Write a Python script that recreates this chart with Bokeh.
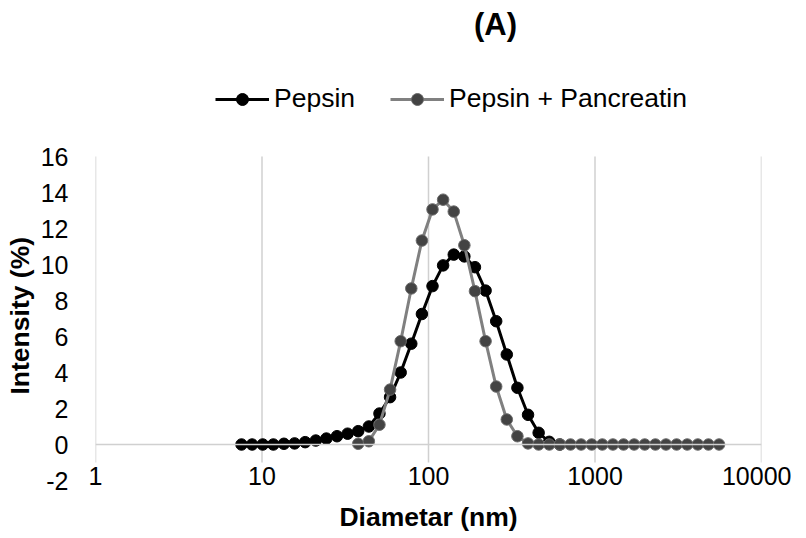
from bokeh.plotting import figure
from bokeh.models import (Legend, LegendItem, Label, Span, FixedTicker, Title,
                          ColumnDataSource, NumeralTickFormatter)
from bokeh.embed import file_html
from bokeh.resources import INLINE

# ---- data ----
DIAM_PEPSIN = [7.531, 8.721, 10.1, 11.7, 13.54, 15.69, 18.17, 21.04, 24.36, 28.21,
               32.67, 37.84, 43.82, 50.75, 58.77, 68.06, 78.82, 91.28, 105.7, 122.4,
               141.8, 164.2, 190.1, 220.2, 255.0, 295.3, 342.0, 396.1, 458.7, 531.2,
               615.1]
INT_PEPSIN = [0, 0, 0, 0, 0.04, 0.06, 0.13, 0.22, 0.33, 0.46,
              0.6, 0.74, 1.0, 1.72, 2.63, 4.0, 5.6, 7.25, 8.8, 9.95,
              10.55, 10.45, 9.85, 8.55, 6.85, 5.0, 3.15, 1.65, 0.65, 0.15,
              0]

DIAM_PANC = [37.84, 43.82, 50.75, 58.77, 68.06, 78.82, 91.28, 105.7, 122.4, 141.8,
             164.2, 190.1, 220.2, 255.0, 295.3, 342.0, 396.1, 458.7, 531.2, 615.1,
             712.4, 825.0, 955.4, 1106, 1281, 1484, 1718, 1990, 2305, 2669,
             3091, 3580, 4145, 4801, 5560]
INT_PANC = [0.04, 0.18, 1.1, 3.05, 5.74, 8.67, 11.33, 13.06, 13.6, 12.94,
            11.07, 8.52, 5.74, 3.22, 1.39, 0.46, 0.06, 0, 0, 0,
            0, 0, 0, 0, 0, 0, 0, 0, 0, 0,
            0, 0, 0, 0, 0]

SERIES_NAMES = ["Pepsin", "Pepsin + Pancreatin"]
XTICKS = [1, 10, 100, 1000, 10000]
XTICK_LABELS = ["1", "10", "100", "1000", "10000"]
YTICKS = [-2, 0, 2, 4, 6, 8, 10, 12, 14, 16]
YTICK_LABELS = ["-2", "0", "2", "4", "6", "8", "10", "12", "14", "16"]
TITLE = "(A)"
XLABEL = "Diametar (nm)"
YLABEL = "Intensity (%)"

# ---- layout / styling constants ----
FONT = "Liberation Sans"
GRID_COLOR = "#d0d0d0"
GRID_BOTTOM = -1.0
PX_PER_UNIT = 18.0          # vertical scale of the value axis
FRAME_H = 480               # frame runs from the top of the canvas down to y = -2
FRAME_W = 666
Y_TOP = YTICKS[0] + FRAME_H / PX_PER_UNIT   # blank room above 16 holds legend + title

p = figure(frame_width=FRAME_W, frame_height=FRAME_H, x_axis_type="log",
           x_range=(XTICKS[0], XTICKS[-1]), y_range=(YTICKS[0], Y_TOP),
           output_backend="svg", toolbar_location=None,
           min_border_left=94, min_border_right=30,
           min_border_top=0, min_border_bottom=40)
p.outline_line_color = None
p.xgrid.visible = False
p.ygrid.visible = False
p.background_fill_color = "white"

# vertical gridlines (incl. value-axis line at x=1)
p.segment(x0=XTICKS, x1=XTICKS, y0=[GRID_BOTTOM] * len(XTICKS),
          y1=[YTICKS[-1]] * len(XTICKS), line_color=GRID_COLOR, line_width=1.5)
# horizontal axis line at y = 0
p.add_layout(Span(location=0, dimension="width", line_color=GRID_COLOR, line_width=1.5))

src1 = ColumnDataSource(dict(x=DIAM_PEPSIN, y=INT_PEPSIN))
src2 = ColumnDataSource(dict(x=DIAM_PANC, y=INT_PANC))

l1 = p.line("x", "y", source=src1, line_color="black", line_width=3)
s1 = p.scatter("x", "y", source=src1, size=11.5, fill_color="black", line_color="black")
l2 = p.line("x", "y", source=src2, line_color="#808080", line_width=3)
s2 = p.scatter("x", "y", source=src2, size=11.5, fill_color="#434343", line_color="#6a6a6a",
               line_width=1)

# axes
for ax in (p.xaxis[0], p.yaxis[0]):
    ax.axis_line_color = None
    ax.major_tick_line_color = None
    ax.minor_tick_line_color = None
    ax.major_label_text_font = FONT
    ax.major_label_text_font_size = "25px"
    ax.major_label_text_color = "black"
    ax.axis_label_text_font = FONT
    ax.axis_label_text_font_size = "26.5px"
    ax.axis_label_text_font_style = "bold"
    ax.axis_label_text_color = "black"

p.xaxis.ticker = FixedTicker(ticks=XTICKS)
p.xaxis.formatter = NumeralTickFormatter(format="0")
p.xaxis.major_label_overrides = {t: lab for t, lab in zip(XTICKS, XTICK_LABELS)}
p.xaxis.major_label_standoff = -20
p.xaxis.axis_label = XLABEL
p.xaxis.axis_label_standoff = 14

p.yaxis.ticker = FixedTicker(ticks=YTICKS)
p.yaxis.major_label_overrides = {t: lab for t, lab in zip(YTICKS, YTICK_LABELS)}
p.yaxis.major_label_standoff = 21

# value-axis title, placed along the -2..16 span (not the whole frame)
p.add_layout(Title(text=YLABEL, align="left", offset=86, standoff=5,
                   text_font=FONT, text_font_size="26.5px", text_font_style="bold",
                   text_color="black"), "left")

legend = Legend(items=[LegendItem(label=SERIES_NAMES[0], renderers=[l1, s1]),
                       LegendItem(label=SERIES_NAMES[1], renderers=[l2, s2])],
                orientation="horizontal", location=(120, 366),
                glyph_width=54, glyph_height=30, label_standoff=5, spacing=35,
                padding=0, margin=0, border_line_color=None,
                background_fill_alpha=0,
                label_text_font=FONT, label_text_font_size="26.5px",
                label_text_color="black")
p.add_layout(legend, "center")

p.add_layout(Label(x=400, y=456, x_units="screen", y_units="screen", text=TITLE,
                   text_align="center", text_baseline="middle",
                   text_font=FONT, text_font_size="31px",
                   text_font_style="bold", text_color="black"))

open("out.html", "w").write(file_html(p, INLINE))
